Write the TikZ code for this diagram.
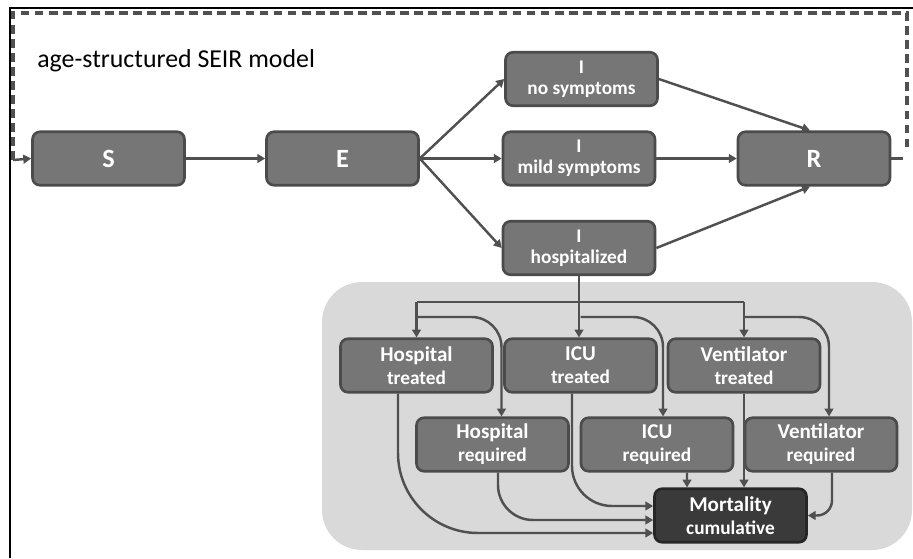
\documentclass[tikz,border=0pt]{standalone}
\usepackage{fontspec}
\setmainfont{Carlito}
\definecolor{main}{RGB}{118,118,118}
\definecolor{second}{RGB}{58,58,58}
\definecolor{edge}{RGB}{75,75,75}
\definecolor{wire}{RGB}{80,80,80}
\definecolor{back}{RGB}{217,217,217}
\usepackage{tikz}
\usetikzlibrary{
	arrows.meta,
	positioning,
	calc
}
\tikzset{
  % arrow
	cstra/.style      ={-{Triangle[length=4.5pt,width=5pt]}, line width=1.4pt, draw=wire}, % right arrow
	cstline/.style    ={line width=1.4pt, draw=wire},
	cstdash/.style    ={line width=2.2pt, draw=wire, dash pattern= on 5pt off 3pt}, %虚线
  % fill
	cstfill/.style    ={fill=back, rounded corners=0.8cm},
  % node
	cstnode/.style    ={fill=main,draw=edge,text=white,rounded corners=0.15cm,line width=1.5pt,
		minimum width=3.04cm,minimum height=1.07cm,inner sep=0pt,align=center,
		font=\bfseries\fontsize{11}{13}\selectfont},
	cstnode1/.style   ={cstnode,fill=second,draw=black!85},
	cstbig/.style     ={font=\bfseries\fontsize{15}{16}\selectfont}
}
\newcommand{\twoline}[2]{{\fontsize{12}{13}\selectfont #1}\\#2}

\begin{document}
\begin{tikzpicture}[x=0.02cm,y=-0.02cm]
	\useasboundingbox (0,0) rectangle (913,558);
	\fill[cstfill] (322,282) rectangle (912,550);
	% frame
	\draw[line width=1.2pt] (10,558) -- (10,8) -- (913,8);
	\draw[cstdash] (13,160) -- (13,13) -- (907,13) -- (907,150);
	\node[anchor=base west,inner sep=0pt,font=\fontsize{14.7}{16}\selectfont] (title) at (37,67) {age-structured SEIR model};
	% SEIR
	\node[cstnode,cstbig] (S) at (108.5,158.5) {S};
	\node[cstnode,cstbig] (E) at (342.5,158.5) {E};
	\node[cstnode] (inos) at (581.5,79) {I\\[-1pt]no symptoms};
	\node[cstnode] (imild) at (579,158.5) {I\\[-1pt]mild symptoms};
	\node[cstnode] (ihosp) at (579,248) {I\\[-1pt]hospitalized};
	\node[cstnode,cstbig] (R) at (814,158.5) {R};
	\draw[cstra] (13,160) -- (S.west);
	\draw[cstra] (S) -- (E);
	\foreach \n in {inos,imild,ihosp}
		\draw[cstra] (E.east) -- (\n.west);
	\draw[cstra] (inos.east) -- ([xshift=-0.08cm]R.north);
	\draw[cstra] (imild) -- (R);
	\draw[cstra] (ihosp.east) -- ([xshift=-0.08cm]R.south);
	\draw[cstline] (R.east) -- (903,158.5);
	% care
	\node[cstnode] (htre) at (416.5,365.5) {\twoline{Hospital}{treated}};
	\node[cstnode] (itre) at (580.5,365.5) {\twoline{ICU}{treated}};
	\node[cstnode] (vtre) at (744,365.5) {\twoline{Ventilator}{treated}};
	\node[cstnode] (hreq) at (492.5,444.5) {\twoline{Hospital}{required}};
	\node[cstnode] (ireq) at (657,444.5) {\twoline{ICU}{required}};
	\node[cstnode] (vreq) at (821,444.5) {\twoline{Ventilator}{required}};
	\node[cstnode1] (mort) at (730.5,515.5) {\twoline{Mortality}{cumulative}};
	\coordinate (bar) at (0,302);
	\coordinate (fork) at (0,317);
	\draw[cstra] (ihosp.south) -- (ihosp.south |- itre.north);
	\draw[cstline] (htre.north |- bar) -- (vtre.north |- bar);
	\foreach \n in {htre,vtre}
		\draw[cstra] (\n.north |- bar) -- (\n.north);
	\draw[cstra,rounded corners=0.6cm] (htre.north |- fork) -| ([xshift=0.18cm]hreq.north);
	\draw[cstra,rounded corners=0.6cm] (itre.north |- fork) -| ([xshift=0.12cm]ireq.north);
	\draw[cstra,rounded corners=0.6cm] (vtre.north |- fork) -| ([xshift=0.16cm]vreq.north);
	% mortality
	\draw[cstra] ([xshift=0.6cm]ireq.south) -- ([xshift=-0.87cm]mort.north);
	\draw[cstra] (vtre.south) -- (vtre.south |- mort.north);
	\draw[cstra,rounded corners=0.3cm] ([xshift=0.22cm]vreq.south) |- (mort.east);
	\draw[cstra,rounded corners=0.8cm] ([xshift=-0.17cm]itre.south) |- ([yshift=0.19cm]mort.west);
	\draw[cstra,rounded corners=0.7cm] ([xshift=0.11cm]hreq.south) |- ([yshift=-0.09cm]mort.west);
	\draw[cstra,rounded corners=1.6cm] ([xshift=-0.37cm]htre.south) |- ([yshift=-0.35cm]mort.west);
\end{tikzpicture}
\end{document}
